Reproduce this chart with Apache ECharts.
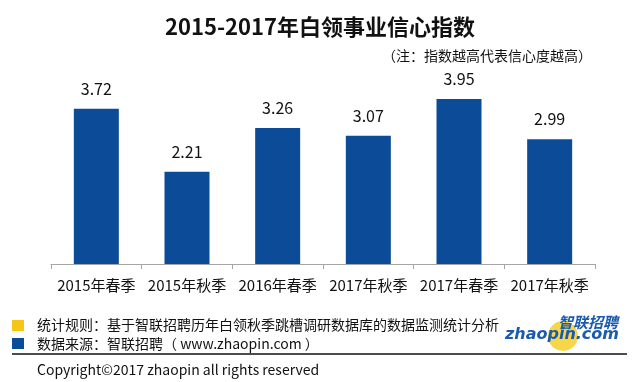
<!DOCTYPE html>
<html>
<head>
<meta charset="utf-8">
<script src="https://cdn.jsdelivr.net/npm/echarts@6/dist/echarts.min.js"></script>
<style>html,body{margin:0;padding:0;background:#fff}#c{width:640px;height:382px}</style>
</head>
<body>
<div id="c"></div>
<script>
const categories = ['2015年春季','2015年秋季','2016年春季','2017年秋季','2017年春季','2017年秋季'];
const values = [3.72, 2.21, 3.26, 3.07, 3.95, 2.99];
const titleText = '2015-2017年白领事业信心指数';
const noteText = '（注：指数越高代表信心度越高）';
const ruleText = '统计规则：基于智联招聘历年白领秋季跳槽调研数据库的数据监测统计分析';
const sourceText = '数据来源：智联招聘（ www.zhaopin.com ）';
const copyrightText = 'Copyright©2017 zhaopin all rights reserved';

const FONT = '"Noto Sans CJK SC", "Noto Sans", sans-serif';
const chart = echarts.init(document.getElementById('c'));
chart.setOption({
  animation: false,
  backgroundColor: '#fff',
  textStyle: { fontFamily: FONT },
  grid: { left: 51, right: 45, top: 97, bottom: 118 },
  xAxis: {
    type: 'category',
    data: categories,
    axisLine: { lineStyle: { color: '#a6a6a6', width: 1 } },
    axisTick: { show: true, length: 5, lineStyle: { color: '#a6a6a6' } },
    axisLabel: { color: '#111', fontSize: 15, margin: 14, interval: 0, fontFamily: FONT }
  },
  yAxis: {
    type: 'value', min: 0, max: 4, show: false,
    splitLine: { show: false }
  },
  series: [{
    type: 'bar',
    data: values,
    barWidth: 45,
    itemStyle: { color: '#0c4b97' },
    label: {
      show: true, position: 'top', distance: 12,
      color: '#111', fontSize: 16, fontFamily: FONT,
      formatter: p => p.value.toFixed(2)
    }
  }],
  graphic: [
    { type: 'text', left: 'center', top: 16, style: { text: titleText, font: 'bold 22px ' + FONT, fill: '#111' } },
    { type: 'text', right: 48, top: 49, style: { text: noteText, font: '14px ' + FONT, fill: '#111' } },
    { type: 'rect', shape: { x: 12, y: 320, width: 12, height: 11 }, style: { fill: '#f5c518' } },
    { type: 'rect', shape: { x: 12, y: 338, width: 12, height: 11 }, style: { fill: '#0c4b97' } },
    { type: 'text', x: 37, y: 325, style: { text: ruleText, font: '14px ' + FONT, fill: '#111', textVerticalAlign: 'middle' } },
    { type: 'text', x: 37, y: 344, style: { text: sourceText, font: '14px ' + FONT, fill: '#111', textVerticalAlign: 'middle' } },
    { type: 'line', shape: { x1: 12, y1: 354, x2: 627, y2: 354 }, style: { stroke: '#111', lineWidth: 1.5 } },
    { type: 'text', x: 37, y: 370, style: { text: copyrightText, font: '14px ' + FONT, fill: '#111', textVerticalAlign: 'middle' } },
    { type: 'circle', shape: { cx: 563, cy: 336, r: 15 }, style: { fill: '#f7d64a' } },
    { type: 'text', x: 618, y: 322, style: { text: '智联招聘', font: 'italic bold 15px ' + FONT, fill: '#1a5bb0', textAlign: 'right', textVerticalAlign: 'middle' } },
    { type: 'text', x: 619, y: 335, style: { text: 'zhaopin.com', font: 'italic bold 16px "DejaVu Sans", sans-serif', fill: '#1a5bb0', textAlign: 'right', textVerticalAlign: 'middle' } }
  ]
});
</script>
</body>
</html>
